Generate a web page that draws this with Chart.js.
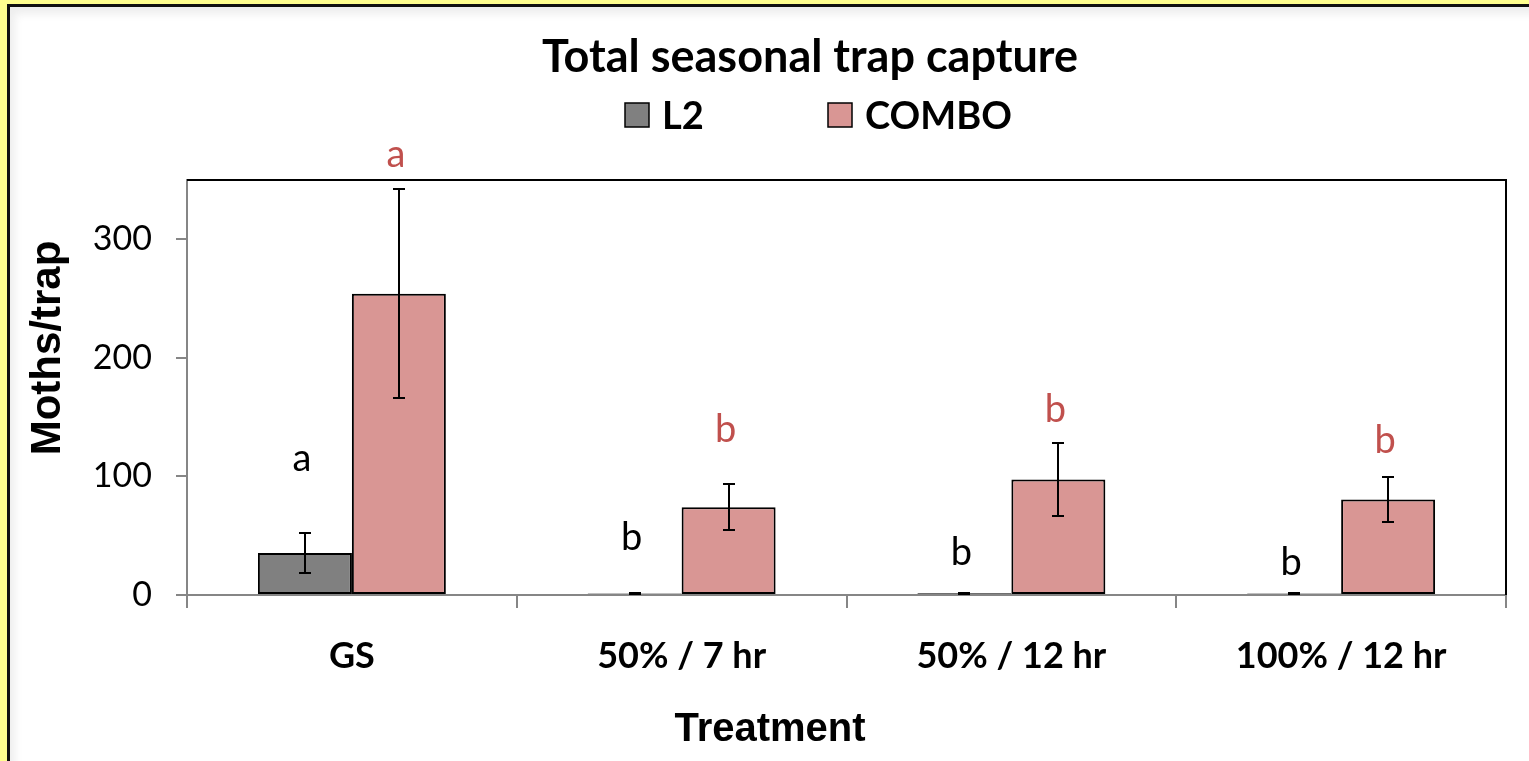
<!DOCTYPE html>
<html>
<head>
<meta charset="utf-8">
<title>Total seasonal trap capture</title>
<script src="https://cdn.jsdelivr.net/npm/chart.js@4.4.1/dist/chart.umd.min.js"></script>
<style>
  html, body { margin: 0; padding: 0; }
  body { width: 1529px; height: 761px; background: #ffff8f; overflow: hidden; position: relative; }
  .panel {
    position: absolute; left: 7px; top: 4px; right: -20px; bottom: -20px;
    background: #fff; border-top: 3px solid #111; border-left: 3px solid #111;
    box-shadow: inset 5px 7px 8px rgba(0, 0, 0, 0.07);
  }
  #wrap { position: absolute; left: 0; top: 0; width: 1529px; height: 761px; }
</style>
</head>
<body>
<div class="panel"></div>
<div id="wrap"><canvas id="trapChart"></canvas></div>
<script>
// values
const categories = ['GS', '50% / 7 hr', '50% / 12 hr', '100% / 12 hr'];
const l2Means = [35.5, 1.2, 1.5, 1.2];
const l2Errors = [17, 0.6, 0.6, 0.6];
const comboMeans = [254, 74, 97.5, 80.6];
const comboErrors = [88, 19.5, 31, 19.3];
const l2Letters = ['a', 'b', 'b', 'b'];
const comboLetters = ['a', 'b', 'b', 'b'];
// where the significance letters sit, in moths/trap
const l2LetterLevels = [105, 38, 25, 17];
const comboLetterLevels = [361, 129, 146, 120];
const yTicks = [0, 100, 200, 300];
const yMax = 350;

const L2_COLOR = '#808080';
const COMBO_COLOR = '#d99694';
const LETTER_RED = '#c0504d';
const AXIS_GRAY = '#868686';

// error bars, letters, frame, title, legend and axis titles
const extras = {
    id: 'extras',
    afterDatasetsDraw(chart) {
        const ctx = chart.ctx;
        const y = chart.scales.y;
        ctx.save();
        ctx.strokeStyle = '#000';
        ctx.lineWidth = 2;
        chart.data.datasets.forEach((ds, i) => {
            chart.getDatasetMeta(i).data.forEach((bar, j) => {
                const m = ds.data[j], e = ds.errors[j];
                const top = Math.round(y.getPixelForValue(m + e));
                const bot = Math.round(y.getPixelForValue(Math.max(0, m - e)));
                const x = Math.round(bar.x);
                ctx.beginPath();
                ctx.moveTo(x, top); ctx.lineTo(x, bot);
                ctx.moveTo(x - 6, top); ctx.lineTo(x + 6, top);
                ctx.moveTo(x - 6, bot); ctx.lineTo(x + 6, bot);
                ctx.stroke();
            });
        });
        ctx.restore();
    },
    afterDraw(chart) {
        const ctx = chart.ctx;
        const a = chart.chartArea;
        const y = chart.scales.y;
        ctx.save();

        // top and right frame of the plot
        ctx.strokeStyle = '#000';
        ctx.lineWidth = 2;
        ctx.beginPath();
        ctx.moveTo(a.left, a.top); ctx.lineTo(a.right, a.top); ctx.lineTo(a.right, a.bottom);
        ctx.stroke();

        // letters
        ctx.font = '38px Lato';
        ctx.textAlign = 'center';
        ctx.textBaseline = 'alphabetic';
        chart.data.datasets.forEach((ds, i) => {
            ctx.fillStyle = ds.letterColor;
            chart.getDatasetMeta(i).data.forEach((bar, j) => {
                ctx.fillText(ds.letters[j], bar.x - 3, y.getPixelForValue(ds.letterLevels[j]));
            });
        });

        // chart title
        ctx.fillStyle = '#000';
        ctx.font = 'bold 45px Lato';
        ctx.fillText('Total seasonal trap capture', 810, 72);

        // legend
        ctx.font = 'bold 38px Lato';
        ctx.textAlign = 'left';
        ctx.textBaseline = 'middle';
        const legendX = [625, 828];
        const legendY = 115;
        chart.data.datasets.forEach((ds, i) => {
            const x = legendX[i];
            ctx.fillStyle = ds.backgroundColor;
            ctx.fillRect(x, legendY - 12, 24, 24);
            ctx.strokeStyle = '#000';
            ctx.lineWidth = 1.5;
            ctx.strokeRect(x, legendY - 12, 24, 24);
            ctx.fillStyle = '#000';
            ctx.fillText(ds.label, x + 37, legendY + 2);
        });

        // axis titles
        ctx.font = 'bold 40px "Liberation Sans"';
        ctx.textAlign = 'center';
        ctx.fillText('Treatment', 770, 730);
        ctx.font = 'bold 42px "Liberation Sans"';
        ctx.translate(48, 348);
        ctx.rotate(-Math.PI / 2);
        ctx.fillText('Moths/trap', 0, 0);
        ctx.restore();
    }
};

function drawChart() {
    const ctx = document.getElementById('trapChart').getContext('2d');
    new Chart(ctx, {
        type: 'bar',
        data: {
            labels: categories,
            datasets: [
                {
                    label: 'L2',
                    data: l2Means,
                    errors: l2Errors,
                    letters: l2Letters,
                    letterLevels: l2LetterLevels,
                    letterColor: '#000',
                    backgroundColor: L2_COLOR,
                    borderColor: '#000',
                    borderWidth: 2,
                    borderSkipped: false,
                },
                {
                    label: 'COMBO',
                    data: comboMeans,
                    errors: comboErrors,
                    letters: comboLetters,
                    letterLevels: comboLetterLevels,
                    letterColor: LETTER_RED,
                    backgroundColor: COMBO_COLOR,
                    borderColor: '#000',
                    borderWidth: 2,
                    borderSkipped: false,
                },
            ],
        },
        options: {
            responsive: false,
            animation: false,
            devicePixelRatio: 1,
            datasets: { bar: { barPercentage: 1, categoryPercentage: 0.57 } },
            layout: { padding: { left: 0, right: 23, top: 180, bottom: 0 } },
            plugins: {
                legend: { display: false },
                tooltip: { enabled: false },
                title: { display: false },
            },
            scales: {
                x: {
                    offset: true,
                    grid: {
                        offset: true,
                        drawOnChartArea: false,
                        drawTicks: true,
                        tickLength: 13,
                        color: AXIS_GRAY,
                        lineWidth: 2,
                    },
                    border: { color: AXIS_GRAY, width: 2 },
                    ticks: {
                        color: '#000',
                        padding: 27,
                        maxRotation: 0,
                        font: { family: 'Lato', size: 36, weight: 'bold' },
                    },
                    afterFit: s => { s.height = 166; },
                },
                y: {
                    min: 0,
                    max: yMax,
                    grid: {
                        drawOnChartArea: false,
                        drawTicks: true,
                        tickLength: 11,
                        color: AXIS_GRAY,
                        lineWidth: 2,
                    },
                    border: { color: AXIS_GRAY, width: 2 },
                    ticks: {
                        color: '#000',
                        padding: 24,
                        font: { family: 'Lato', size: 34 },
                    },
                    afterBuildTicks: s => { s.ticks = yTicks.map(v => ({ value: v })); },
                    afterFit: s => { s.width = 187; },
                },
            },
        },
        plugins: [extras],
    });
}

window.onload = () => {
    const c = document.getElementById('trapChart');
    c.width = 1529;
    c.height = 761;
    Promise.all([
        document.fonts.load('38px Lato'),
        document.fonts.load('bold 38px Lato'),
        document.fonts.load('bold 40px "Liberation Sans"'),
    ]).catch(() => {}).then(drawChart);
};
</script>
</body>
</html>
